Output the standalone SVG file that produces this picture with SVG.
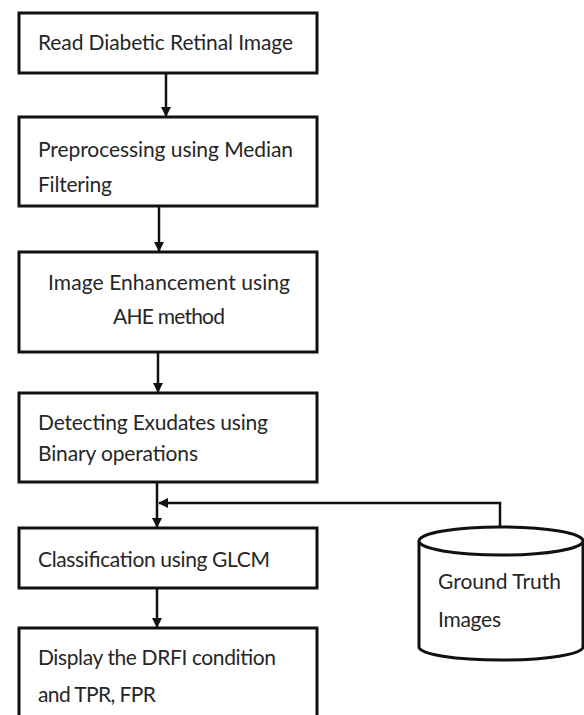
<svg xmlns="http://www.w3.org/2000/svg" width="584" height="715" viewBox="0 0 584 715">
<style>
.box{fill:#fff;stroke:#111;stroke-width:3}
.t{font-family:Lato,"Open Sans",sans-serif;font-size:21px;fill:#262626}
.c{stroke:#111;stroke-width:2.5;fill:none}
</style>
<defs>
<marker id="ah" markerWidth="10" markerHeight="10" refX="9" refY="5" orient="auto" markerUnits="userSpaceOnUse">
<path d="M0,0 L10,5 L0,10 z" fill="#111"/>
</marker>
</defs>
<rect width="584" height="715" fill="#fff"/>
<g id="n1"><rect class="box" x="19" y="13" width="298" height="60"/><text class="t" x="38" y="50" textLength="255">Read Diabetic Retinal Image</text></g>
<g id="n2"><rect class="box" x="19" y="117" width="298" height="89"/><text class="t" x="38" y="157" textLength="255">Preprocessing using Median</text><text class="t" x="38" y="192" textLength="74">Filtering</text></g>
<g id="n3"><rect class="box" x="19" y="252" width="298" height="100"/><text class="t" x="169" y="290" text-anchor="middle" textLength="242">Image Enhancement using</text><text class="t" x="169" y="324" text-anchor="middle" textLength="112">AHE method</text></g>
<g id="n4"><rect class="box" x="19" y="393" width="298" height="89"/><text class="t" x="38" y="430" textLength="230">Detecting Exudates using</text><text class="t" x="38" y="461" textLength="160">Binary operations</text></g>
<g id="n5"><rect class="box" x="19" y="528" width="298" height="60"/><text class="t" x="38" y="567" textLength="232">Classification using GLCM</text></g>
<g id="n6"><rect class="box" x="19" y="628" width="298" height="100"/><text class="t" x="38" y="665" textLength="238">Display the DRFI condition</text><text class="t" x="38" y="702" textLength="118">and TPR, FPR</text></g>
<g id="n7">
<path class="box" d="M419,541 L419,647 A82,13 0 0 0 583,647 L583,541"/>
<ellipse class="box" cx="501" cy="541" rx="82" ry="14"/>
<text class="t" x="438" y="589" textLength="123">Ground Truth</text>
<text class="t" x="438" y="627" textLength="63">Images</text>
</g>
<g id="connectors">
<line class="c" x1="166" y1="73" x2="166" y2="116" marker-end="url(#ah)"/>
<line class="c" x1="159" y1="206" x2="159" y2="251" marker-end="url(#ah)"/>
<line class="c" x1="158" y1="352" x2="158" y2="392" marker-end="url(#ah)"/>
<line class="c" x1="157" y1="482" x2="157" y2="527" marker-end="url(#ah)"/>
<polyline class="c" points="500,527 500,503 159,503" marker-end="url(#ah)"/>
<line class="c" x1="157" y1="588" x2="157" y2="627" marker-end="url(#ah)"/>
</g>
</svg>
